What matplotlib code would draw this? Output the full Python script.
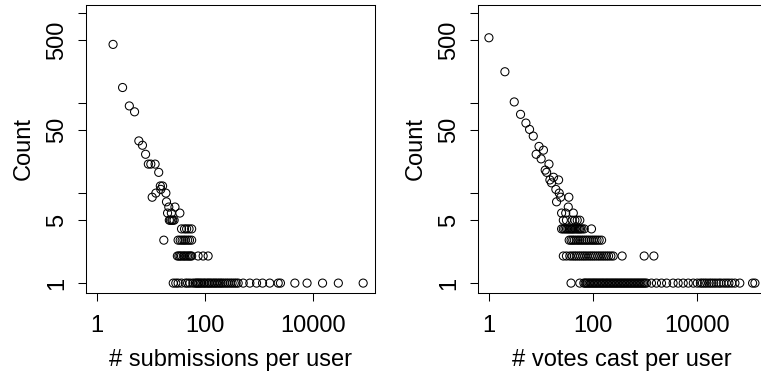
import matplotlib
matplotlib.use("Agg")
from matplotlib import pyplot as plt

plt.rcParams['font.family'] = ['Liberation Sans', 'DejaVu Sans']
plt.rcParams['font.size'] = 17

# submissions per user -> count
sub_head_x = [2, 3, 4, 5, 6, 7, 8, 9, 10, 12, 14, 15, 16.5, 15.3, 10.6, 12.4,
              19, 19.5, 21.5, 28, 20.4, 24, 34.5, 22, 23, 24.5, 25.5, 27]
sub_head_y = [449, 149, 93, 80, 38, 34, 27, 21, 21, 21, 17, 12, 12, 11, 9, 10,
              10, 8, 7, 7, 6, 6, 6, 5, 5, 5, 5, 5]
sub_x_4 = [37, 42, 46, 51, 57]
sub_x_3 = [17.4, 32, 35, 38, 41, 44, 48, 52, 57]
sub_x_2 = [31, 33, 35, 37, 40, 42, 45, 48, 51, 54, 57, 75, 93, 115]
sub_x_1 = [26, 29, 32, 37, 44, 48, 53, 60, 66, 70, 74, 78, 83, 88, 95, 100,
           108, 115, 122, 130, 140, 150, 160, 172, 185, 198, 212, 230, 250,
           270, 295, 320, 350, 380, 414, 513, 681, 906, 1170, 1590, 2280,
           2510, 4640, 7800, 15100, 29600, 85300]

# votes cast per user -> count
vote_head_x = [1, 2.03, 3.07, 4.06, 5.15, 6.05, 7.13, 9.2, 11.2, 8.1, 10.1,
               14.3, 12.1, 12.9, 17.5, 21.9, 14.9, 16, 19.4, 22.5, 24, 34.5,
               20, 33.6, 25, 30, 42, 27, 31, 40, 45, 50, 56]
vote_head_y = [532, 223, 103, 75, 60, 51, 43, 33, 30, 27, 24,
               21, 18, 17, 15, 14, 14, 13, 11, 10, 9, 9,
               8, 7, 6, 6, 6, 5, 5, 5, 5, 5, 5]
vote_x_4 = [25, 27, 29, 31, 33, 35, 37, 39, 41, 43, 46, 49, 52, 55, 58, 62, 68, 94]
vote_x_3 = [35, 38, 41, 44, 48, 52, 56, 61, 66, 72, 78, 85, 93, 101, 110,
            120, 132, 147]
vote_x_2 = [27, 31, 36, 40, 44, 48, 53, 58, 64, 70, 77, 85, 93, 102, 112,
            124, 136, 150, 165, 182, 200, 222, 246, 365, 970, 1490]
vote_x_1 = [38, 56, 67, 71, 75, 80, 85, 90, 96, 102, 108, 115, 122, 130, 138,
            147, 156, 166, 177, 188, 200, 213, 227, 241, 257, 273, 290, 309,
            329, 350, 372, 396, 421, 448, 477, 508, 540, 575, 612, 651, 693,
            737, 784, 834, 888, 945, 1005, 1080, 1340, 1670, 2090, 2620, 3490,
            4360, 5460, 6830, 8540, 10200, 11700, 12800, 14100, 15500, 17300,
            19000, 21100, 23500, 26400, 29000, 33000, 37000, 41400, 47000,
            54000, 67000, 118000, 131000]

x_ticks = [1, 100, 10000]
y_ticks = [1, 5, 10, 50, 100, 500, 1000]
y_labels = ['1', '5', '', '50', '', '500', '']


def build(head_x, head_y, x4, x3, x2, x1):
    xs = list(head_x) + x4 + x3 + x2 + x1
    ys = list(head_y) + [4] * len(x4) + [3] * len(x3) + [2] * len(x2) + [1] * len(x1)
    return xs, ys


fig = plt.figure(figsize=(7.61, 3.73), dpi=100)
W, H = 761.0, 373.0
ax1 = fig.add_axes([86 / W, 80 / H, 289 / W, 288 / H])
ax2 = fig.add_axes([478 / W, 80 / H, 288 / W, 288 / H])

panels = [
    (ax1, build(sub_head_x, sub_head_y, sub_x_4, sub_x_3, sub_x_2, sub_x_1),
     '# submissions per user', (10 ** -0.2, 10 ** 5.15)),
    (ax2, build(vote_head_x, vote_head_y, vote_x_4, vote_x_3, vote_x_2, vote_x_1),
     '# votes cast per user', (10 ** -0.21, 10 ** 5.33)),
]

for ax, (xs, ys), xlabel, xlim in panels:
    ax.scatter(xs, ys, s=34, facecolors='none', edgecolors='black',
               linewidths=0.75)
    ax.set_xscale('log')
    ax.set_yscale('log')
    ax.set_xlim(*xlim)
    ax.set_ylim(10 ** -0.11, 10 ** 3.09)
    ax.set_xticks(x_ticks)
    ax.set_xticklabels([str(t) for t in x_ticks])
    ax.set_yticks(y_ticks)
    ax.set_yticklabels(y_labels, rotation=90, va='center')
    ax.minorticks_off()
    ax.tick_params(direction='out', length=5.8, width=0.75, pad=10)
    ax.tick_params(axis='y', pad=7)
    for sp in ax.spines.values():
        sp.set_linewidth(0.75)
    ax.set_xlabel(xlabel, va='center')
    ax.xaxis.set_label_coords(0.5, -67 / 288.0)
    ax.set_ylabel('Count', va='center')
    ax.yaxis.set_label_coords(-62 / 289.0, 0.5)

fig.savefig('out.png', dpi=100)
